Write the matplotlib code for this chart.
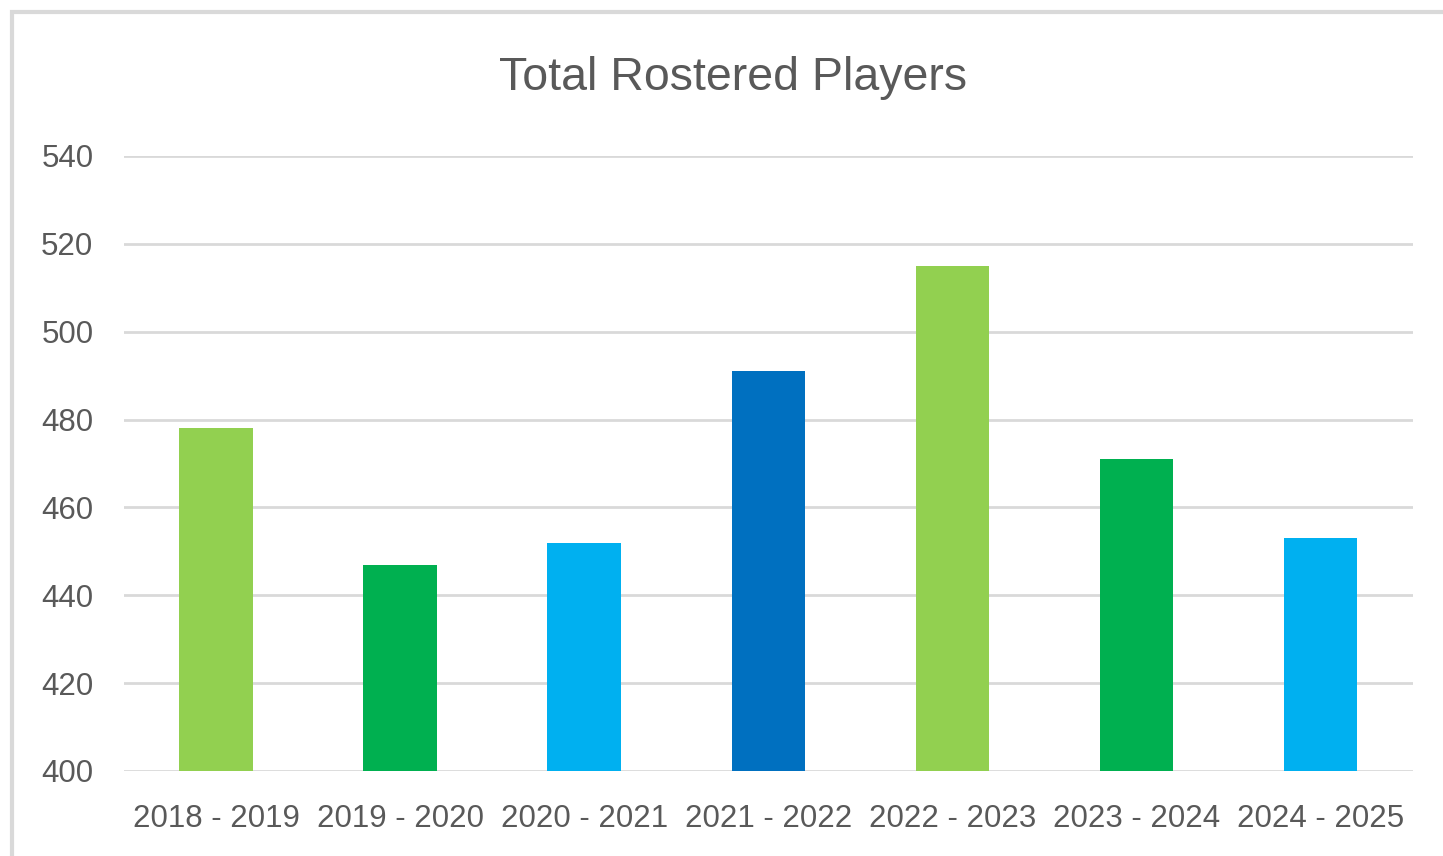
import matplotlib
matplotlib.use('Agg')
from matplotlib import pyplot as plt
from matplotlib.patches import Rectangle

seasons = ['2018 - 2019', '2019 - 2020', '2020 - 2021', '2021 - 2022',
           '2022 - 2023', '2023 - 2024', '2024 - 2025']
players = [478, 447, 452, 491, 515, 471, 453]
colors = ['#92D050', '#00B050', '#00B0F0', '#0070C0',
          '#92D050', '#00B050', '#00B0F0']

TEXT = '#595959'
GRID = '#D9D9D9'

plt.rcParams['font.family'] = ['Liberation Sans', 'DejaVu Sans']

fig = plt.figure(figsize=(14.43, 8.56), dpi=100)
ax = fig.add_axes([0.0859, 0.0993, 0.979 - 0.0859, 0.8178 - 0.0993])

x = range(len(seasons))
ax.bar(x, players, width=0.40, color=colors, zorder=3)

ax.set_xlim(-0.5, len(seasons) - 0.5)
ax.set_ylim(400, 540)
ax.set_yticks(range(400, 541, 20))
ax.set_xticks(list(x))
ax.set_xticklabels(seasons)
ax.grid(axis='y', color=GRID, linewidth=2, zorder=0)
for s in ax.spines.values():
    s.set_visible(False)
ax.tick_params(length=0, labelsize=22.5, colors=TEXT)
ax.tick_params(axis='x', pad=24)
ax.tick_params(axis='y', pad=22)

fig.text(0.508, 0.909, 'Total Rostered Players', ha='center', va='center',
         fontsize=33.5, color=TEXT)

# outer chart frame (cropped at right and bottom)
fig.patches.append(Rectangle((12 / 1443, -0.1), 1.2, 1.1 - 12 / 856,
                             transform=fig.transFigure, fill=False,
                             edgecolor=GRID, linewidth=3))

fig.savefig('out.png', dpi=100)
